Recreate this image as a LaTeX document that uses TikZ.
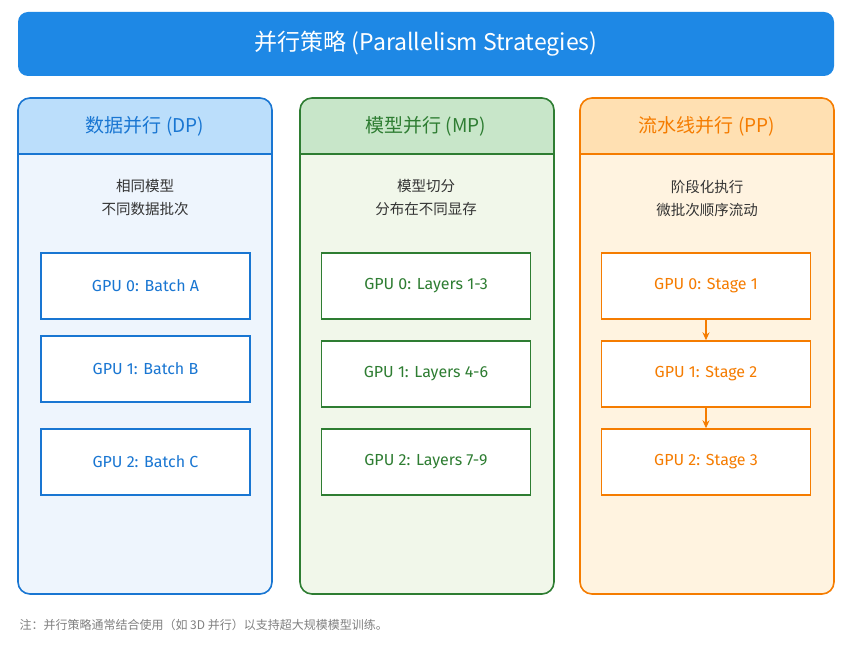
\documentclass[tikz,border=0pt]{standalone}
\usepackage{fontspec}
\setmainfont{Noto Sans CJK SC}
\newfontfamily\gpufont{Fira Sans}
\usetikzlibrary{arrows.meta}
\definecolor{dpc}{HTML}{1976D2}\definecolor{dph}{HTML}{BBDEFB}\definecolor{dpb}{HTML}{EEF5FD}
\definecolor{mpc}{HTML}{2E7D32}\definecolor{mph}{HTML}{C8E6C9}\definecolor{mpb}{HTML}{F1F7EA}
\definecolor{ppc}{HTML}{F57C00}\definecolor{pph}{HTML}{FFE0B2}\definecolor{ppb}{HTML}{FFF3E0}
\definecolor{titc}{HTML}{1E88E5}\definecolor{txt}{HTML}{333333}
\begin{document}
\begin{tikzpicture}[x=1pt,y=-1pt,
 col/.style={draw=#1,line width=1.6pt,rounded corners=12pt},
 gpu/.style={draw=#1,line width=1.4pt,fill=white,minimum width=209pt,minimum height=66pt,text=#1,font=\gpufont\fontsize{16}{19}\selectfont},
 sub/.style={text=txt,align=center,font=\fontsize{14.5}{23}\selectfont},
 hdr/.style={text=#1,font=\fontsize{19}{23}\selectfont}]
\useasboundingbox (0,0) rectangle (854,647);
\fill[white] (0,0) rectangle (854,647);
\node[fill=titc,rounded corners=10pt,minimum width=816pt,minimum height=64pt,text=white,font=\fontsize{23}{27}\selectfont] (title) at (426,44) {并行策略 (Parallelism Strategies)};
\foreach \x/\c/\h/\b in {18/dpc/dph/dpb,300/mpc/mph/mpb,580/ppc/pph/ppb}{
 \fill[\b,rounded corners=12pt] (\x,98) rectangle ++(254,496);
 \fill[\h,rounded corners=12pt] (\x,98) rectangle ++(254,56);
 \fill[\h] (\x,130) rectangle ++(254,24);
 \draw[\c,line width=1.4pt] (\x,154) -- ++(254,0);
 \draw[col=\c] (\x,98) rectangle ++(254,496);
}
\node[hdr=dpc] (dph) at (145,126) {数据并行 (DP)};
\node[hdr=mpc] (mph) at (426,126) {模型并行 (MP)};
\node[hdr=ppc] (pph) at (707,126) {流水线并行 (PP)};
\node[sub] (dps) at (145,198) {相同模型\\不同数据批次};
\node[sub] (mps) at (426,198) {模型切分\\分布在不同显存};
\node[sub] (pps) at (707,198) {阶段化执行\\微批次顺序流动};
\node[gpu=dpc] (d0) at (145.5,286) {GPU 0: Batch A};
\node[gpu=dpc] (d1) at (145.5,369) {GPU 1: Batch B};
\node[gpu=dpc] (d2) at (145.5,462) {GPU 2: Batch C};
\node[gpu=mpc] (m0) at (426,286) {GPU 0: Layers 1-3};
\node[gpu=mpc] (m1) at (426,374) {GPU 1: Layers 4-6};
\node[gpu=mpc] (m2) at (426,462) {GPU 2: Layers 7-9};
\node[gpu=ppc] (p0) at (706,286) {GPU 0: Stage 1};
\node[gpu=ppc] (p1) at (706,374) {GPU 1: Stage 2};
\node[gpu=ppc] (p2) at (706,462) {GPU 2: Stage 3};
\draw[ppc,line width=1.5pt,-{Stealth[length=8pt,width=7pt]}] (p0) -- (p1);
\draw[ppc,line width=1.5pt,-{Stealth[length=8pt,width=7pt]}] (p1) -- (p2);
\node[anchor=west,text=gray,font=\fontsize{12}{14}\selectfont] (note) at (16,625) {注：并行策略通常结合使用（如 3D 并行）以支持超大规模模型训练。};
\end{tikzpicture}
\end{document}
